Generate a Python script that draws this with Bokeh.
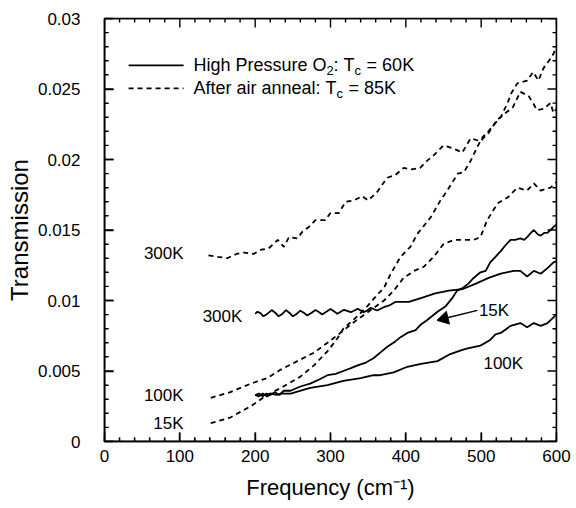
import math
from bokeh.plotting import figure
from bokeh.models import Range1d, FixedTicker, CustomJSTickFormatter, Label
from bokeh.embed import file_html
from bokeh.resources import INLINE

# ---------------- data ----------------
# After air anneal (dashed), 300K
f_d300 = [138, 150, 163, 175, 185, 198, 208, 218, 230, 238, 245, 256, 263, 271, 280, 293,
          300, 311, 320, 331, 342, 350, 362, 375, 386, 397, 408, 419, 428, 437, 450, 462,
          475, 486, 499, 510, 521, 530, 542, 552, 563, 569, 574, 583, 592, 596, 600]
t_d300 = [0.0132, 0.0131, 0.0130, 0.0133, 0.0134, 0.0133, 0.0136, 0.0137, 0.0143, 0.0138,
          0.0145, 0.0144, 0.0149, 0.0152, 0.0157, 0.0157, 0.0162, 0.0162, 0.0170, 0.0171,
          0.0174, 0.0171, 0.0177, 0.0187, 0.0189, 0.0194, 0.0193, 0.0194, 0.0199, 0.0203,
          0.0210, 0.0208, 0.0205, 0.0215, 0.0213, 0.0219, 0.0228, 0.0232, 0.0237, 0.0248,
          0.0245, 0.0240, 0.0235, 0.0236, 0.0240, 0.0233, 0.0236]

# After air anneal (dashed), 100K
f_d100 = [141, 167, 194, 216, 234, 256, 278, 296, 313, 327, 345, 358, 371, 384, 397, 411,
          424, 437, 450, 464, 477, 490, 499, 508, 522, 535, 548, 561, 570, 579, 592, 600]
t_d100 = [0.0031, 0.0035, 0.0041, 0.0045, 0.0051, 0.0057, 0.0063, 0.0070, 0.0077, 0.0083,
          0.0090, 0.0095, 0.0100, 0.0107, 0.0116, 0.0121, 0.0124, 0.0131, 0.0140, 0.0143,
          0.0143, 0.0143, 0.0145, 0.0157, 0.0169, 0.0173, 0.0180, 0.0178, 0.0183, 0.0178,
          0.0180, 0.0184]

# After air anneal (dashed), 15K
f_d15 = [141, 167, 194, 216, 234, 260, 278, 296, 309, 317, 336, 349, 362, 371, 380, 393,
         406, 415, 433, 446, 455, 469, 477, 486, 495, 502, 508, 519, 526, 535, 540, 548,
         561, 569, 576, 583, 590, 596, 600]
t_d15 = [0.0013, 0.0017, 0.0025, 0.0033, 0.0038, 0.0046, 0.0054, 0.0064, 0.0073, 0.0080,
         0.0089, 0.0096, 0.0104, 0.0109, 0.0119, 0.0131, 0.0138, 0.0147, 0.0159, 0.0171,
         0.0178, 0.0190, 0.0191, 0.0199, 0.0209, 0.0216, 0.0219, 0.0226, 0.0230, 0.0240,
         0.0247, 0.0254, 0.0256, 0.0262, 0.0256, 0.0265, 0.0270, 0.0275, 0.0280]

# High pressure O2 (solid), 300K
f_s300 = [200, 203, 207, 211, 216, 222, 227, 231, 236, 241, 246, 250, 255, 260, 265, 269,
          274, 280, 285, 289, 294, 300, 304, 309, 313, 318, 322, 327, 331, 336, 340, 344,
          349, 353, 357, 362, 366, 371, 378, 386, 404, 422, 439, 457, 475, 493, 510, 526,
          543, 552, 561, 570, 579, 588, 596, 600]
t_s300 = [0.00905, 0.00920, 0.00910, 0.00888, 0.00905, 0.00932, 0.00912, 0.00888, 0.00905,
          0.00932, 0.00910, 0.00888, 0.00905, 0.00928, 0.00912, 0.00894, 0.00910, 0.00933,
          0.00917, 0.00901, 0.00918, 0.00940, 0.00925, 0.00906, 0.00918, 0.00934, 0.00927,
          0.00917, 0.00927, 0.00941, 0.00930, 0.00917, 0.00930, 0.00947, 0.00940, 0.00929,
          0.00940, 0.00953, 0.00965, 0.0099, 0.0099, 0.0102, 0.0105, 0.0107, 0.0108, 0.0112,
          0.0116, 0.0119, 0.0121, 0.0121, 0.0117, 0.0121, 0.0119, 0.0123, 0.0127, 0.0128]

# High pressure O2 (solid), 15K
f_s15 = [200, 205, 210, 215, 220, 226, 232, 238, 247, 260, 273, 285, 296, 307, 317, 327,
         336, 347, 357, 366, 375, 386, 393, 402, 413, 420, 428, 435, 442, 453, 462, 468,
         476, 483, 490, 499, 506, 512, 519, 526, 532, 539, 545, 552, 557, 561, 566, 570,
         575, 579, 584, 588, 592, 596, 600]
t_s15 = [0.0033, 0.0034, 0.0032, 0.0034, 0.0033, 0.0035, 0.0033, 0.0036, 0.0036, 0.0039,
         0.0041, 0.0044, 0.0047, 0.0048, 0.0050, 0.0052, 0.0054, 0.0056, 0.0059, 0.0063,
         0.0067, 0.0071, 0.0074, 0.0077, 0.0079, 0.0083, 0.0086, 0.0089, 0.0092, 0.0096,
         0.0102, 0.0107, 0.0109, 0.0112, 0.0116, 0.0120, 0.0121, 0.0127, 0.0131, 0.0135,
         0.0139, 0.0143, 0.0143, 0.0144, 0.0143, 0.0145, 0.0148, 0.0150, 0.0147, 0.0146,
         0.0148, 0.0148, 0.0150, 0.0152, 0.0154]

# High pressure O2 (solid), 100K
f_s100 = [200, 205, 210, 216, 222, 228, 235, 247, 273, 296, 317, 340, 357, 366, 384, 402,
          420, 442, 459, 475, 482, 499, 512, 519, 526, 539, 552, 561, 570, 579, 588, 596, 600]
t_s100 = [0.0033, 0.0032, 0.0034, 0.0032, 0.0034, 0.0033, 0.0034, 0.0034, 0.0038, 0.0040,
          0.0043, 0.0045, 0.0047, 0.0047, 0.0049, 0.0053, 0.0055, 0.0057, 0.0062, 0.0065,
          0.0066, 0.0068, 0.0072, 0.0076, 0.0077, 0.0082, 0.0084, 0.0081, 0.0084, 0.0082,
          0.0084, 0.0088, 0.0090]

# curve labels
lab_left_text = ["300K", "100K", "15K", "300K"]
lab_left_x = [105, 105, 105, 183]
lab_left_y = [0.0133, 0.00325, 0.0013, 0.00887]

lab_right_text = ["15K", "100K"]
lab_right_x = [497, 503]
lab_right_y = [0.0093, 0.0055]

arrow_x_start, arrow_y_start = 495, 0.0093
arrow_x_end, arrow_y_end = 442, 0.0086

x_ticks = [0, 100, 200, 300, 400, 500, 600]
y_ticks = [0, 0.005, 0.01, 0.015, 0.02, 0.025, 0.03]
x_minor = list(range(0, 601, 20))
y_minor = [round(i * 0.001, 3) for i in range(31)]

# legend
leg_line_x = [32, 105]
leg_y = [0.02667, 0.02504]
leg_text_x = 118

FONT = "Liberation Sans"
NB = "\u00a0"
X0, X1, Y0, Y1 = 0, 600, 0, 0.03
FW, FH = 452, 423
PX_X = (X1 - X0) / FW   # data units per pixel
PX_Y = (Y1 - Y0) / FH

p = figure(frame_width=FW, frame_height=FH, output_backend="svg", toolbar_location=None,
           x_range=Range1d(X0, X1), y_range=Range1d(Y0, Y1),
           min_border_left=104, min_border_right=16, min_border_top=18, min_border_bottom=64,
           x_axis_label="Frequency (cm\u207b\u00b9)", y_axis_label="Transmission")
p.grid.visible = False
p.outline_line_color = "black"
p.outline_line_width = 1.5

xt = FixedTicker(ticks=x_ticks, minor_ticks=x_minor)
yt = FixedTicker(ticks=y_ticks, minor_ticks=y_minor)
fmt = CustomJSTickFormatter(code="return String(Number(tick.toPrecision(6)));")

for ax, tk in ((p.xaxis[0], xt), (p.yaxis[0], yt)):
    ax.ticker = tk
    ax.formatter = fmt
    ax.major_tick_in = 9
    ax.major_tick_out = 0
    ax.minor_tick_in = 4
    ax.minor_tick_out = 0
    ax.axis_line_width = 1.5
    ax.major_tick_line_width = 1.4
    ax.minor_tick_line_width = 1.2
    ax.major_label_text_font = FONT
    ax.major_label_text_font_size = "17px"
    ax.major_label_text_color = "black"
    ax.axis_label_text_font = FONT
    ax.axis_label_text_font_style = "normal"
    ax.axis_label_text_color = "black"

p.xaxis[0].major_label_standoff = 8
p.xaxis[0].axis_label_standoff = 10
p.xaxis[0].axis_label_text_font_size = "22px"
p.yaxis[0].major_label_standoff = 24
p.yaxis[0].axis_label_standoff = 2
p.yaxis[0].axis_label_text_font_size = "24px"


# inward tick marks on the top and right edges (mirror of the bottom/left axes),
# drawn as continuous "comb" paths built from the tick lists
def tick_len(t, majors):
    return 9 if any(abs(t - m) < 1e-12 for m in majors) else 4


for base, sign in ((Y0, 1), (Y1, -1)):
    cx, cy = [], []
    for t in x_minor:
        n = tick_len(t, x_ticks)
        cx += [t, t, t]
        cy += [base, base + sign * n * PX_Y, base]
    p.line(cx, cy, line_color="black", line_width=1.4)
for base, sign in ((X0, 1), (X1, -1)):
    cx, cy = [], []
    for t in y_minor:
        n = tick_len(t, y_ticks)
        cx += [base, base + sign * n * PX_X, base]
        cy += [t, t, t]
    p.line(cx, cy, line_color="black", line_width=1.4)

LW = 1.8
DASH = "5 4"
p.line(f_d300, t_d300, line_color="black", line_width=LW, line_dash=DASH)
p.line(f_d100, t_d100, line_color="black", line_width=LW, line_dash=DASH)
p.line(f_d15, t_d15, line_color="black", line_width=LW, line_dash=DASH)
p.line(f_s300, t_s300, line_color="black", line_width=LW)
p.line(f_s15, t_s15, line_color="black", line_width=LW)
p.line(f_s100, t_s100, line_color="black", line_width=LW)


def label(x, y, text, size="17px", align="left", xo=0, yo=0):
    p.add_layout(Label(x=x, y=y, text=text, x_offset=xo, y_offset=yo, text_font=FONT,
                       text_font_size=size, text_align=align, text_baseline="middle",
                       text_color="black"))


for x, y, t in zip(lab_left_x, lab_left_y, lab_left_text):
    label(x, y, t, align="right")
for x, y, t in zip(lab_right_x, lab_right_y, lab_right_text):
    label(x, y, t, align="left")

# arrow: shaft + triangular head pointing at the 15K curve
ang = math.atan2((arrow_y_end - arrow_y_start) / PX_Y, (arrow_x_end - arrow_x_start) / PX_X)
head_back = 7  # px from tip to head centre
hx = arrow_x_end - head_back * math.cos(ang) * PX_X
hy = arrow_y_end - head_back * math.sin(ang) * PX_Y
p.line([arrow_x_start, hx], [arrow_y_start, hy], line_color="black", line_width=1.5)
p.scatter([hx], [hy], marker="triangle", size=13, angle=ang - math.pi / 2,
          fill_color="black", line_color="black")

# legend (manual, to allow subscripts)
p.line(leg_line_x, [leg_y[0]] * 2, line_color="black", line_width=LW)
p.line(leg_line_x, [leg_y[1]] * 2, line_color="black", line_width=LW, line_dash=DASH)

BIG, SMALL = "18px", "13px"
pieces1 = [("High Pressure O", 0, BIG, 0), ("2", 133.0, SMALL, -5),
           (":" + NB + "T", 140.2, BIG, 0), ("c", 161.2, SMALL, -5),
           (NB + "=" + NB + "60K", 168.2, BIG, 0)]
pieces2 = [("After air anneal:" + NB + "T", 0, BIG, 0), ("c", 143.1, SMALL, -5),
           (NB + "=" + NB + "85K", 150.1, BIG, 0)]
for yy, pieces in ((leg_y[0], pieces1), (leg_y[1], pieces2)):
    for txt, xo, fs, yo in pieces:
        label(leg_text_x, yy, txt, size=fs, xo=xo, yo=yo)

open("out.html", "w").write(file_html(p, INLINE))
